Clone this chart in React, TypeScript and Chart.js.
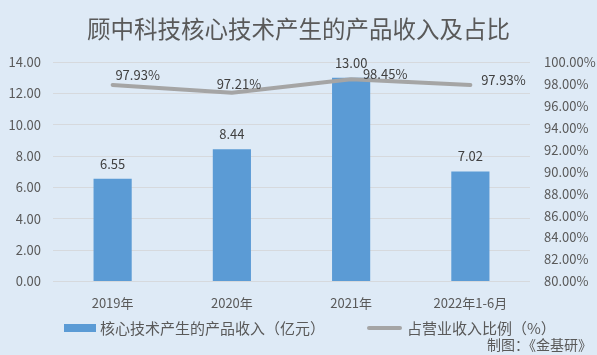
import React, { useEffect, useRef } from "react";
import { Chart, registerables } from "chart.js";

Chart.register(...registerables);

const categories = ["2019年", "2020年", "2021年", "2022年1-6月"];
const revenue = [6.55, 8.44, 13.0, 7.02];
const ratio = [97.93, 97.21, 98.45, 97.93];
const titleText = "顾中科技核心技术产生的产品收入及占比";
const barLabel = "核心技术产生的产品收入（亿元）";
const lineLabel = "占营业收入比例（%）";
const creditText = "制图：《金基研》";

// label placement shifts (style) for the line's value labels, relative to each point
const lineLabelShift = [
  [25, -10],
  [7, -9],
  [34, -5],
  [33, -5],
];

const FONT = "'Noto Sans CJK SC', 'Noto Sans', sans-serif";
const TXT = "#595959";
const BLUE = "#5B9BD5";
const GRAY = "#A5A5A5";

export default function App() {
  const ref = useRef<HTMLCanvasElement | null>(null);
  useEffect(() => {
    document.body.style.margin = "0";
    const labelsPlugin = {
      id: "valueLabels",
      afterDatasetsDraw(chart: any) {
        const ctx = chart.ctx;
        ctx.save();
        ctx.font = `13px ${FONT}`;
        ctx.fillStyle = "#404040";
        ctx.textBaseline = "middle";
        ctx.textAlign = "center";
        const m0 = chart.getDatasetMeta(0);
        m0.data.forEach((el: any, i: number) => {
          ctx.fillText(revenue[i].toFixed(2), el.x, el.y - 15);
        });
        const m1 = chart.getDatasetMeta(1);
        m1.data.forEach((el: any, i: number) => {
          const s = lineLabelShift[i];
          ctx.fillText(ratio[i].toFixed(2) + "%", el.x + s[0], el.y + s[1]);
        });

        // legend
        const ly = 328;
        ctx.font = `15px ${FONT}`;
        ctx.textAlign = "left";
        ctx.fillStyle = BLUE;
        ctx.fillRect(64, ly - 4, 32, 8);
        ctx.fillStyle = TXT;
        const w1 = ctx.measureText(barLabel).width;
        ctx.fillText(barLabel, 100, ly);
        const x2 = 100 + w1 + 42;
        ctx.strokeStyle = GRAY;
        ctx.lineWidth = 4;
        ctx.lineCap = "round";
        ctx.beginPath();
        ctx.moveTo(x2 + 2, ly);
        ctx.lineTo(x2 + 33, ly);
        ctx.stroke();
        ctx.fillText(lineLabel, x2 + 40, ly);

        // credit
        ctx.font = `14px ${FONT}`;
        ctx.fillStyle = TXT;
        ctx.textAlign = "right";
        ctx.fillText(creditText, 592, 345);
        ctx.restore();
      },
    };
    const chart = new Chart(ref.current as HTMLCanvasElement, {
      type: "bar",
      data: {
        labels: categories,
        datasets: [
          {
            type: "bar",
            label: barLabel,
            data: revenue,
            backgroundColor: BLUE,
            yAxisID: "y",
            order: 1,
            categoryPercentage: 1,
            barPercentage: 0.32,
          } as any,
          {
            type: "line",
            label: lineLabel,
            data: ratio,
            borderColor: GRAY,
            backgroundColor: GRAY,
            borderWidth: 4,
            pointRadius: 0,
            tension: 0,
            yAxisID: "y1",
            order: 0,
            borderCapStyle: "round",
            borderJoinStyle: "round",
          } as any,
        ],
      },
      options: {
        animation: false,
        responsive: false,
        maintainAspectRatio: false,
        layout: { padding: { top: 0, bottom: 38, left: 0, right: 0 } },
        plugins: {
          title: {
            display: true,
            text: titleText,
            color: TXT,
            font: { family: FONT, size: 23.5, weight: "normal" },
            padding: { top: 15, bottom: 19 },
          },
          legend: { display: false },
          tooltip: { enabled: false },
        },
        scales: {
          x: {
            grid: { display: false },
            border: { display: false },
            ticks: { color: TXT, font: { family: FONT, size: 13 }, padding: 6 },
          },
          y: {
            position: "left",
            min: 0,
            max: 14,
            ticks: {
              stepSize: 2,
              color: TXT,
              font: { family: FONT, size: 13 },
              padding: 12,
              callback: (v: any) => Number(v).toFixed(2),
            },
            grid: { color: "#D6D9DD", lineWidth: 1, drawTicks: false },
            border: { display: false },
            afterFit: (s: any) => {
              s.width = 53;
            },
          },
          y1: {
            position: "right",
            min: 80,
            max: 100,
            ticks: {
              stepSize: 2,
              color: TXT,
              font: { family: FONT, size: 13 },
              padding: 14,
              callback: (v: any) => Number(v).toFixed(2) + "%",
            },
            grid: { display: false, drawTicks: false },
            border: { display: false },
            afterFit: (s: any) => {
              s.width = 67;
            },
          },
        },
      } as any,
      plugins: [labelsPlugin],
    });
    return () => chart.destroy();
  }, []);
  return (
    <div style={{ position: "absolute", left: 0, top: 0, width: 597, height: 355, background: "#DEEAF6" }}>
      <canvas ref={ref} width={597} height={355} style={{ width: 597, height: 355 }} />
    </div>
  );
}
